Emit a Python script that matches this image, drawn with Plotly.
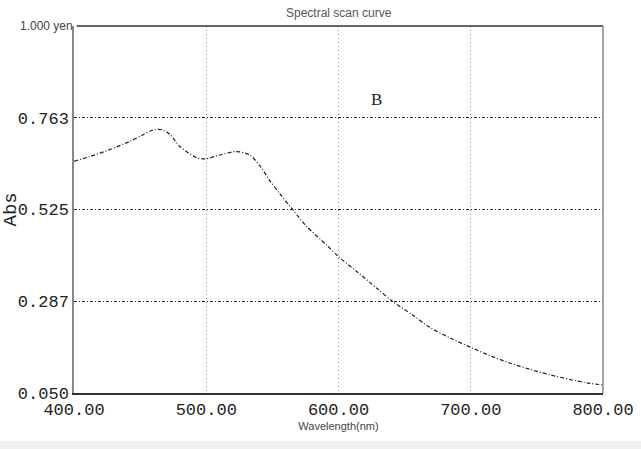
import plotly.graph_objects as go

# Data
wavelength = [400, 412, 427, 442, 452, 460, 467, 473, 480, 493, 499, 510, 523, 533, 541, 548, 556,
              566, 576, 591, 600, 614, 629, 641, 656, 669, 684, 700, 715, 730, 745, 760, 775, 790, 800]
absorbance = [0.650, 0.662, 0.680, 0.701, 0.718, 0.731, 0.731, 0.718, 0.688, 0.659, 0.656, 0.666,
              0.675, 0.666, 0.636, 0.600, 0.564, 0.522, 0.481, 0.433, 0.403, 0.364, 0.321, 0.287,
              0.252, 0.220, 0.193, 0.168, 0.146, 0.127, 0.111, 0.097, 0.085, 0.075, 0.071]

x_ticks = [400, 500, 600, 700, 800]
x_tick_labels = ["400.00", "500.00", "600.00", "700.00", "800.00"]
y_ticks = [0.050, 0.287, 0.525, 0.763]
y_tick_labels = ["0.050", "0.287", "0.525", "0.763"]

mono = "Liberation Mono"
sans = "Liberation Sans"

fig = go.Figure()
fig.add_trace(go.Scatter(
    x=wavelength, y=absorbance, mode="lines",
    line=dict(color="#222222", width=1.2, dash="4px,2px,1px,2px", shape="spline", smoothing=0.8),
    showlegend=False, hoverinfo="skip"))

fig.update_layout(
    width=641, height=449,
    margin=dict(l=74, r=38, t=26, b=56),
    paper_bgcolor="white", plot_bgcolor="white",
    xaxis=dict(range=[400, 800], tickvals=x_ticks, ticktext=x_tick_labels, automargin=False,
               showgrid=True, gridcolor="#888888", griddash="1px,3px", gridwidth=1,
               showline=True, linecolor="#333333", linewidth=1.5,
               ticks="", zeroline=False,
               tickfont=dict(family=mono, size=17, color="#222222"),
               title=dict(text="Wavelength(nm)", font=dict(family=sans, size=11, color="#444444"),
                          standoff=0)),
    yaxis=dict(range=[0.05, 1.0], tickvals=y_ticks, ticktext=y_tick_labels, automargin=False,
               showgrid=True, gridcolor="#222222", griddash="3px,2px,1px,2px", gridwidth=1,
               showline=True, linecolor="#888888", linewidth=1.5,
               ticks="", zeroline=False,
               tickfont=dict(family=mono, size=17, color="#222222")),
    shapes=[
        dict(type="line", xref="paper", yref="paper", x0=0.005, x1=1, y0=1, y1=1,
             line=dict(color="#333333", width=1.5)),
        dict(type="line", xref="paper", yref="paper", x0=1, x1=1, y0=0, y1=1,
             line=dict(color="#888888", width=1.5)),
        dict(type="rect", xref="paper", yref="paper", x0=-0.2, x1=1.1, y0=-0.16, y1=-0.131,
             fillcolor="#f0f0f0", line=dict(width=0), layer="below"),
    ],
    annotations=[
        dict(text="Spectral scan curve", xref="paper", yref="paper", x=0.5, y=1.0,
             yshift=13, showarrow=False, yanchor="middle",
             font=dict(family=sans, size=12, color="#555555")),
        dict(text="1.000 yen", xref="paper", yref="paper", x=0, y=1, xshift=1,
             xanchor="right", yanchor="middle", showarrow=False,
             font=dict(family=sans, size=12, color="#444444")),
        dict(text="Abs", xref="paper", yref="paper", x=0, y=0.5, xshift=-64,
             textangle=-90, showarrow=False, xanchor="center", yanchor="middle",
             font=dict(family=mono, size=19, color="#222222")),
        dict(text="B", x=629, y=0.81, showarrow=False,
             font=dict(family="Liberation Serif", size=17, color="#222222")),
    ],
)

fig.write_html("out.html")
